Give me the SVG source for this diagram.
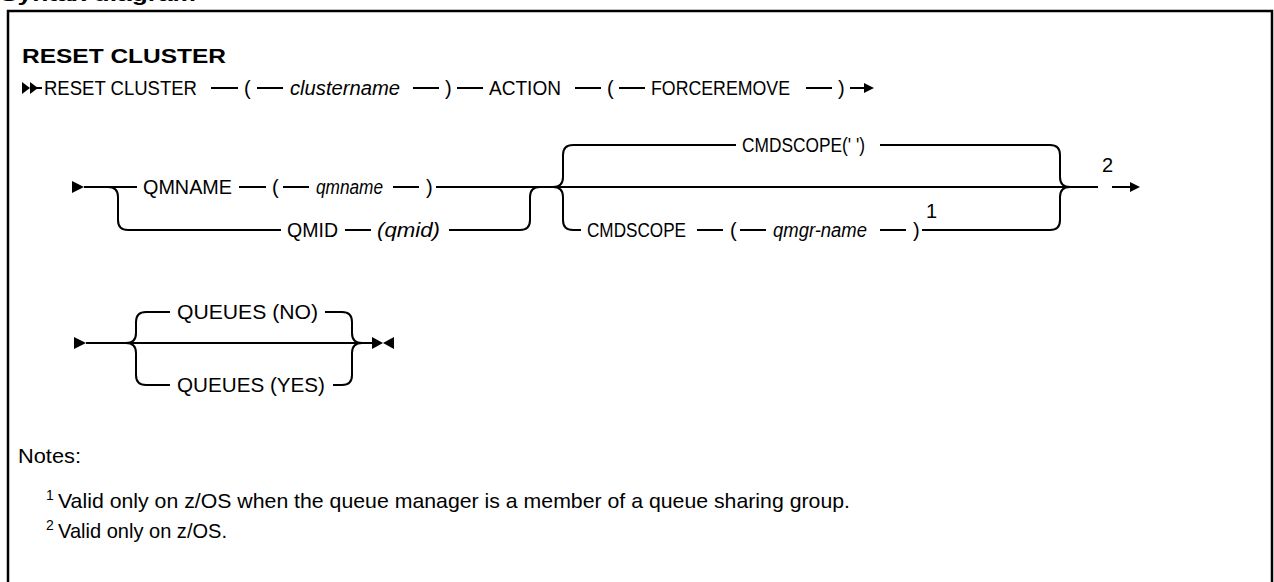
<svg xmlns="http://www.w3.org/2000/svg" width="1274" height="582" viewBox="0 0 1274 582">
<style>
.t{font-family:"Liberation Sans",Arial,sans-serif;font-size:20px;fill:#000}
.i{font-style:italic}
.b{font-weight:bold}
.n{font-family:"Liberation Sans",Arial,sans-serif;font-size:21px;fill:#000}
.s{font-family:"Liberation Sans",Arial,sans-serif;font-size:14px;fill:#000}
.ln{stroke:#000;stroke-width:2;fill:none}
.ah{fill:#000}
</style>
<rect x="8" y="11" width="1264" height="600" fill="#fff" stroke="#000" stroke-width="2.5"/>
<text class="n b" x="0" y="1" font-size="24" textLength="196" lengthAdjust="spacingAndGlyphs">Syntax diagram</text>
<text id="title" class="n b" x="22" y="63" font-size="23" textLength="204" lengthAdjust="spacingAndGlyphs">RESET CLUSTER</text>

<g id="connectors">
  <!-- line 1 -->
  <polygon class="ah" points="22,82 30,88 22,94"/>
  <polygon class="ah" points="30,82 38,88 30,94"/>
  <line class="ln" x1="36" y1="88" x2="42" y2="88"/>
  <line class="ln" x1="211" y1="88" x2="238" y2="88"/>
  <line class="ln" x1="257" y1="88" x2="283" y2="88"/>
  <line class="ln" x1="413" y1="88" x2="439" y2="88"/>
  <line class="ln" x1="457" y1="88" x2="483" y2="88"/>
  <line class="ln" x1="575" y1="88" x2="601" y2="88"/>
  <line class="ln" x1="619" y1="88" x2="645" y2="88"/>
  <line class="ln" x1="806" y1="88" x2="832" y2="88"/>
  <line class="ln" x1="850" y1="88" x2="865" y2="88"/>
  <polygon class="ah" points="864,83 874,88 864,93"/>
  <!-- line 2 -->
  <polygon class="ah" points="72,181 84,187 72,193"/>
  <path class="ln" d="M84 187 H137"/>
  <path class="ln" d="M108 187 Q118 187 118 197 V220 Q118 230 128 230 H281"/>
  <line class="ln" x1="239" y1="187" x2="266" y2="187"/>
  <line class="ln" x1="283" y1="187" x2="309" y2="187"/>
  <line class="ln" x1="393" y1="187" x2="419" y2="187"/>
  <path class="ln" d="M436 187 H1098"/>
  <line class="ln" x1="345" y1="230" x2="371" y2="230"/>
  <path class="ln" d="M449 230 H520 Q530 230 530 220 V197 Q530 187 540 187"/>
  <path class="ln" d="M553 187 Q563 187 563 177 V155 Q563 145 573 145 H736"/>
  <path class="ln" d="M553 187 Q563 187 563 197 V220 Q563 230 573 230 H581"/>
  <path class="ln" d="M880 145 H1050 Q1060 145 1060 155 V177 Q1060 187 1070 187"/>
  <line class="ln" x1="697" y1="230" x2="723" y2="230"/>
  <line class="ln" x1="740" y1="230" x2="766" y2="230"/>
  <line class="ln" x1="880" y1="230" x2="906" y2="230"/>
  <path class="ln" d="M922 230 H1050 Q1060 230 1060 220 V197 Q1060 187 1070 187"/>
  <line class="ln" x1="1112" y1="187" x2="1131" y2="187"/>
  <polygon class="ah" points="1130,182 1140,187 1130,192"/>
  <!-- line 3 -->
  <polygon class="ah" points="74,337 86,343 74,349"/>
  <path class="ln" d="M86 343 H360"/>
  <path class="ln" d="M126 343 Q136 343 136 333 V322 Q136 312 146 312 H170"/>
  <path class="ln" d="M126 343 Q136 343 136 353 V375 Q136 385 146 385 H170"/>
  <path class="ln" d="M325 312 H342 Q352 312 352 322 V333 Q352 343 362 343"/>
  <path class="ln" d="M333 385 H342 Q352 385 352 375 V353 Q352 343 362 343"/>
  <line class="ln" x1="360" y1="343" x2="373" y2="343"/>
  <polygon class="ah" points="372,337 383,343 372,349"/>
  <polygon class="ah" points="394,337 383,343 394,349"/>
</g>

<g id="n-reset"><text class="t" x="44" y="95" textLength="153" lengthAdjust="spacingAndGlyphs">RESET CLUSTER</text></g>
<g id="n-lp1"><text class="t" x="244" y="95">(</text></g>
<g id="n-clustername"><text class="t i" x="290" y="95" textLength="110" lengthAdjust="spacingAndGlyphs">clustername</text></g>
<g id="n-rp1"><text class="t" x="445" y="95">)</text></g>
<g id="n-action"><text class="t" x="489" y="95" textLength="72" lengthAdjust="spacingAndGlyphs">ACTION</text></g>
<g id="n-lp2"><text class="t" x="607" y="95">(</text></g>
<g id="n-forceremove"><text class="t" x="651" y="95" textLength="139" lengthAdjust="spacingAndGlyphs">FORCEREMOVE</text></g>
<g id="n-rp2"><text class="t" x="838" y="95">)</text></g>

<g id="n-qmname-kw"><text class="t" x="143" y="194" textLength="89" lengthAdjust="spacingAndGlyphs">QMNAME</text></g>
<g id="n-lp3"><text class="t" x="272" y="194">(</text></g>
<g id="n-qmname"><text class="t i" x="316" y="194" textLength="67" lengthAdjust="spacingAndGlyphs">qmname</text></g>
<g id="n-rp3"><text class="t" x="426" y="194">)</text></g>
<g id="n-qmid-kw"><text class="t" x="287" y="237" textLength="51" lengthAdjust="spacingAndGlyphs">QMID</text></g>
<g id="n-qmid"><text class="t i" x="377" y="237" textLength="63" lengthAdjust="spacingAndGlyphs">(qmid)</text></g>
<g id="n-cmdscope-default"><text class="t" x="742" y="152" textLength="123" lengthAdjust="spacingAndGlyphs">CMDSCOPE(' ')</text></g>
<g id="n-cmdscope-kw"><text class="t" x="587" y="237" textLength="99" lengthAdjust="spacingAndGlyphs">CMDSCOPE</text></g>
<g id="n-lp4"><text class="t" x="730" y="237">(</text></g>
<g id="n-qmgrname"><text class="t i" x="773" y="237" textLength="94" lengthAdjust="spacingAndGlyphs">qmgr-name</text></g>
<g id="n-rp4"><text class="t" x="913" y="237">)</text></g>
<g id="n-fn1"><text class="t" x="926" y="218" font-size="17">1</text></g>
<g id="n-fn2"><text class="t" x="1102" y="172" font-size="17">2</text></g>

<g id="n-queues-no"><text class="t" x="177" y="319" textLength="141" lengthAdjust="spacingAndGlyphs">QUEUES (NO)</text></g>
<g id="n-queues-yes"><text class="t" x="177" y="392" textLength="148" lengthAdjust="spacingAndGlyphs">QUEUES (YES)</text></g>

<g id="notes">
  <text class="n" x="18" y="463" textLength="63" lengthAdjust="spacingAndGlyphs">Notes:</text>
  <text class="s" x="46" y="500">1</text>
  <text class="n" x="58" y="508" textLength="792" lengthAdjust="spacingAndGlyphs">Valid only on z/OS when the queue manager is a member of a queue sharing group.</text>
  <text class="s" x="46" y="530">2</text>
  <text class="n" x="58" y="538" textLength="169" lengthAdjust="spacingAndGlyphs">Valid only on z/OS.</text>
</g>
</svg>
